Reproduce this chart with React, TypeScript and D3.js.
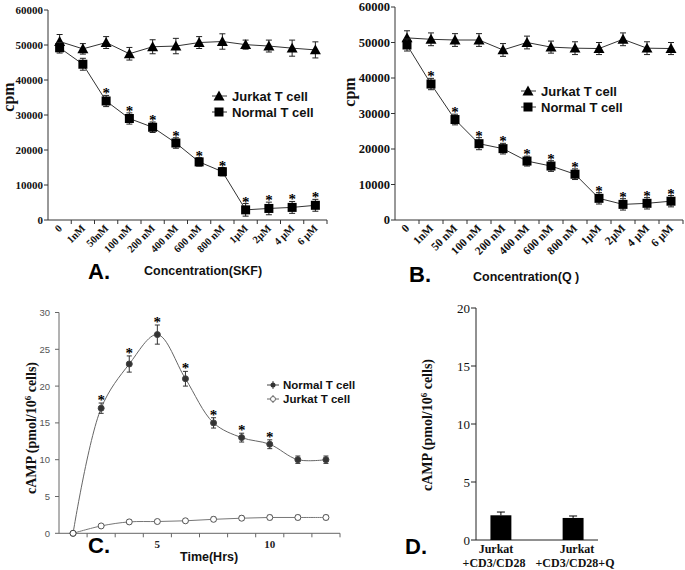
import React from "react";
import * as d3 from "d3";

// ---------- Data ----------
const concLabelsA = ["0", "1nM", "50nM", "100 nM", "200 nM", "400 nM", "600 nM", "800 nM", "1µM", "2µM", "4 µM", "6 µM"];
const concLabelsB = ["0", "1nM", "50 nM", "100 nM", "200 nM", "400 nM", "600 nM", "800 nM", "1µM", "2µM", "4 µM", "6 µM"];
const cpmTicks = [0, 10000, 20000, 30000, 40000, 50000, 60000];

const jurkatA = [51000, 48900, 50700, 47500, 49500, 49700, 50700, 51000, 50100, 49700, 49100, 48600];
const jurkatAErr = [2000, 1500, 1700, 1800, 2000, 2200, 1700, 2200, 1300, 1700, 2300, 2300];
const normalA = [49200, 44500, 34000, 29000, 26500, 22000, 16600, 13800, 2900, 3300, 3600, 4200];
const normalAErr = [1500, 1700, 1600, 1600, 1500, 1500, 1200, 1200, 1800, 1800, 1700, 1700];
const starsA = [false, false, true, true, true, true, true, true, true, true, true, true];

const jurkatB = [51300, 50900, 50700, 50700, 47900, 50000, 48700, 48400, 48300, 50900, 48400, 48300];
const jurkatBErr = [2000, 1800, 1800, 1800, 1800, 1800, 1700, 1800, 1700, 1800, 1800, 1700];
const normalB = [49300, 38300, 28300, 21500, 20100, 16600, 15200, 12900, 6100, 4400, 4700, 5300];
const normalBErr = [1700, 1600, 1500, 1700, 1500, 1400, 1500, 1500, 1600, 1600, 1600, 1600];
const starsB = [false, true, true, true, true, true, true, true, true, true, true, true];

const timeCats = [1.25, 2.5, 3.75, 5, 6.25, 7.5, 8.75, 10, 11.25, 12.5];
const timeLabels = ["", "", "", "5", "", "", "", "10", "", ""];
const normalC = [0, 17, 23, 27, 21, 15, 13, 12.1, 10, 10];
const normalCErr = [0, 0.7, 1.1, 1.3, 1.0, 0.7, 0.6, 0.6, 0.5, 0.5];
const starsC = [false, true, true, true, true, true, true, true, false, false];
const jurkatC = [0, 1.0, 1.55, 1.6, 1.7, 1.9, 2.05, 2.15, 2.15, 2.15];
const jurkatCErr = [0, 0.15, 0.25, 0.25, 0.25, 0.3, 0.3, 0.3, 0.3, 0.3];
const cTicks = [0, 5, 10, 15, 20, 25, 30];

const barCats = ["Jurkat\n+CD3/CD28", "Jurkat\n+CD3/CD28+Q"];
const barVals = [2.13, 1.9];
const barErr = [0.28, 0.17];
const dTicks = [0, 5, 10, 15, 20];

// ---------- Styles ----------
const SERIF = '"Liberation Serif", "Times New Roman", serif';
const SANS = '"Liberation Sans", Arial, sans-serif';

function Tri({ x, y, s = 5.5 }: { x: number; y: number; s?: number }) {
  return <path d={`M${x},${y - s} L${x + s},${y + s * 0.8} L${x - s},${y + s * 0.8} Z`} fill="#000" />;
}
function Sq({ x, y, s = 4.5 }: { x: number; y: number; s?: number }) {
  return <rect x={x - s} y={y - s} width={2 * s} height={2 * s} fill="#000" />;
}
function ErrBar({ x, y1, y2, cap = 3, stroke = "#222" }: { x: number; y1: number; y2: number; cap?: number; stroke?: string }) {
  return (
    <g stroke={stroke} strokeWidth={1}>
      <line x1={x} x2={x} y1={y1} y2={y2} />
      <line x1={x - cap} x2={x + cap} y1={y1} y2={y1} />
      <line x1={x - cap} x2={x + cap} y1={y2} y2={y2} />
    </g>
  );
}

type ConcProps = {
  x0: number; x1: number; yTop: number; yBot: number;
  labels: string[]; jurkat: number[]; jurkatErr: number[]; normal: number[]; normalErr: number[]; stars: boolean[];
  tickFont: number; xFont: number; legendX: number; legendY: number; cpmX: number; cpmY: number;
  letter: string; letterX: number; letterY: number; title: string; titleX: number; titleY: number;
};

function ConcPanel(p: ConcProps) {
  const x = d3.scaleBand<number>().domain(d3.range(p.labels.length)).range([p.x0, p.x1]);
  const y = d3.scaleLinear().domain([0, 60000]).range([p.yBot, p.yTop]);
  const cx = (i: number) => (x(i) as number) + x.bandwidth() / 2;
  const line = d3.line<number>().x((_, i) => cx(i)).y((v) => y(v));
  return (
    <g>
      <line x1={p.x0} x2={p.x0} y1={p.yTop} y2={p.yBot} stroke="#333" />
      <line x1={p.x0} x2={p.x1} y1={p.yBot} y2={p.yBot} stroke="#333" />
      {cpmTicks.map((t) => (
        <g key={t}>
          <line x1={p.x0 - 4} x2={p.x0} y1={y(t)} y2={y(t)} stroke="#333" />
          <text x={p.x0 - 5} y={y(t) + p.tickFont * 0.35} textAnchor="end" fontFamily={SERIF} fontWeight="bold" fontSize={p.tickFont} fill="#111">{t}</text>
        </g>
      ))}
      {p.labels.map((l, i) => (
        <g key={i}>
          <line x1={(x(i) as number) + x.bandwidth()} x2={(x(i) as number) + x.bandwidth()} y1={p.yBot} y2={p.yBot + 4} stroke="#333" />
          <text transform={`translate(${cx(i) + 3},${p.yBot + 9}) rotate(-45)`} textAnchor="end" fontFamily={SERIF} fontWeight="bold" fontSize={p.xFont} fill="#111">{l}</text>
        </g>
      ))}
      <path d={line(p.jurkat) || ""} fill="none" stroke="#333" strokeWidth={1} />
      <path d={line(p.normal) || ""} fill="none" stroke="#333" strokeWidth={1} />
      {p.jurkat.map((v, i) => (
        <g key={"j" + i}>
          <ErrBar x={cx(i)} y1={y(v + p.jurkatErr[i])} y2={y(v - p.jurkatErr[i])} />
          <Tri x={cx(i)} y={y(v)} />
        </g>
      ))}
      {p.normal.map((v, i) => (
        <g key={"n" + i}>
          <ErrBar x={cx(i)} y1={y(v + p.normalErr[i])} y2={y(v - p.normalErr[i])} />
          <Sq x={cx(i)} y={y(v)} />
          {p.stars[i] && (
            <text x={cx(i)} y={y(v + p.normalErr[i]) + 3} textAnchor="middle" fontFamily={SERIF} fontWeight="bold" fontSize={15} fill="#000">*</text>
          )}
        </g>
      ))}
      <g>
        <line x1={p.legendX - 7} x2={p.legendX + 8} y1={p.legendY} y2={p.legendY} stroke="#333" />
        <Tri x={p.legendX} y={p.legendY} />
        <text x={p.legendX + 13} y={p.legendY + 4.5} fontFamily={SANS} fontWeight="bold" fontSize={13} fill="#111">Jurkat T cell</text>
        <line x1={p.legendX - 7} x2={p.legendX + 8} y1={p.legendY + 16} y2={p.legendY + 16} stroke="#333" />
        <Sq x={p.legendX} y={p.legendY + 16} />
        <text x={p.legendX + 13} y={p.legendY + 20.5} fontFamily={SANS} fontWeight="bold" fontSize={13} fill="#111">Normal T cell</text>
      </g>
      <text transform={`translate(${p.cpmX},${p.cpmY}) rotate(-90)`} textAnchor="middle" fontFamily={SERIF} fontWeight="bold" fontSize={16} fill="#111">cpm</text>
      <text x={p.letterX} y={p.letterY} fontFamily={SANS} fontWeight="bold" fontSize={22} fill="#000">{p.letter}</text>
      <text x={p.titleX} y={p.titleY} fontFamily={SANS} fontWeight="bold" fontSize={12.5} fill="#111">{p.title}</text>
    </g>
  );
}

function PanelC() {
  const x0 = 59, x1 = 340, yTop = 312.5, yBot = 533.3;
  const x = d3.scaleBand<number>().domain(timeCats).range([x0, x1]);
  const y = d3.scaleLinear().domain([0, 30]).range([yBot, yTop]);
  const cx = (t: number) => (x(t) as number) + x.bandwidth() / 2;
  const line = d3.line<number>().x((_, i) => cx(timeCats[i])).y((v) => y(v)).curve(d3.curveCatmullRom.alpha(0.5));
  const lx = 273;
  return (
    <g>
      <line x1={x0} x2={x0} y1={yTop} y2={yBot} stroke="#666" />
      <line x1={x0} x2={x1} y1={yBot} y2={yBot} stroke="#666" />
      {cTicks.map((t) => (
        <g key={t}>
          <line x1={x0 - 4} x2={x0} y1={y(t)} y2={y(t)} stroke="#666" />
          <text x={x0 - 9} y={y(t) + 3.5} textAnchor="end" fontFamily={SANS} fontSize={9.5} fill="#555">{t}</text>
        </g>
      ))}
      {timeCats.map((t, i) => (
        <g key={t}>
          <line x1={(x(t) as number) + x.bandwidth()} x2={(x(t) as number) + x.bandwidth()} y1={yBot} y2={yBot + 4} stroke="#666" />
          {timeLabels[i] && (
            <text x={cx(t)} y={yBot + 15} textAnchor="middle" fontFamily={SERIF} fontWeight="bold" fontSize={11} fill="#222">{timeLabels[i]}</text>
          )}
        </g>
      ))}
      <path d={line(normalC) || ""} fill="none" stroke="#666" strokeWidth={1} />
      <path d={line(jurkatC) || ""} fill="none" stroke="#777" strokeWidth={1} />
      {jurkatC.map((v, i) => (
        <g key={"j" + i}>
          {jurkatCErr[i] > 0 && <ErrBar x={cx(timeCats[i])} y1={y(v + jurkatCErr[i])} y2={y(v - jurkatCErr[i])} cap={2.5} stroke="#555" />}
          <circle cx={cx(timeCats[i])} cy={y(v)} r={3} fill="#fff" stroke="#555" strokeWidth={1} />
        </g>
      ))}
      {normalC.map((v, i) => (
        <g key={"n" + i}>
          {normalCErr[i] > 0 && <ErrBar x={cx(timeCats[i])} y1={y(v + normalCErr[i])} y2={y(v - normalCErr[i])} cap={2.5} stroke="#333" />}
          <circle cx={cx(timeCats[i])} cy={y(v)} r={3} fill={i === 0 ? "#fff" : "#333"} stroke="#444" strokeWidth={1} />
          {starsC[i] && (
            <text x={cx(timeCats[i])} y={y(v + normalCErr[i]) + 2} textAnchor="middle" fontFamily={SERIF} fontWeight="bold" fontSize={15} fill="#000">*</text>
          )}
        </g>
      ))}
      <g>
        <line x1={lx - 6} x2={lx + 6} y1={385} y2={385} stroke="#444" />
        <line x1={lx} x2={lx} y1={381} y2={389} stroke="#444" />
        <circle cx={lx} cy={385} r={2.5} fill="#333" />
        <text x={lx + 10} y={389} fontFamily={SANS} fontWeight="bold" fontSize={11.5} fill="#111">Normal T cell</text>
        <line x1={lx - 6} x2={lx + 6} y1={399} y2={399} stroke="#666" />
        <line x1={lx} x2={lx} y1={395} y2={403} stroke="#666" />
        <circle cx={lx} cy={399} r={2.5} fill="#fff" stroke="#666" />
        <text x={lx + 10} y={403} fontFamily={SANS} fontWeight="bold" fontSize={11.5} fill="#111">Jurkat T cell</text>
      </g>
      <text transform="translate(36,428) rotate(-90)" textAnchor="middle" fontFamily={SERIF} fontWeight="bold" fontSize={14} fill="#111">
        cAMP (pmol/10<tspan dy={-5} fontSize={9}>6</tspan><tspan dy={5}> cells)</tspan>
      </text>
      <text x={88} y={553} fontFamily={SANS} fontWeight="bold" fontSize={22} fill="#000">C.</text>
      <text x={180} y={561} fontFamily={SANS} fontWeight="bold" fontSize={12.5} fill="#111">Time(Hrs)</text>
    </g>
  );
}

function PanelD() {
  const x0 = 476, x1 = 598, yTop = 308, yBot = 540;
  const x = d3.scaleBand<string>().domain(barCats).range([x0, x1]).paddingInner(0.71).paddingOuter(0.2);
  const y = d3.scaleLinear().domain([0, 20]).range([yBot, yTop]);
  const labelCx = [496, 577];
  return (
    <g>
      <line x1={x0} x2={x0} y1={yTop} y2={yBot} stroke="#222" />
      <line x1={x0} x2={x1} y1={yBot} y2={yBot} stroke="#222" />
      {dTicks.map((t) => (
        <g key={t}>
          <line x1={x0 - 5} x2={x0} y1={y(t)} y2={y(t)} stroke="#222" />
          <text x={x0 - 6} y={y(t) + 4.5} textAnchor="end" fontFamily={SERIF} fontSize={13} fill="#111">{t}</text>
        </g>
      ))}
      {barCats.map((c, i) => {
        const bx = x(c) as number;
        const cx = bx + x.bandwidth() / 2;
        const [l1, l2] = c.split("\n");
        return (
          <g key={c}>
            <rect x={bx} y={y(barVals[i])} width={x.bandwidth()} height={yBot - y(barVals[i])} fill="#000" />
            <line x1={cx} x2={cx} y1={y(barVals[i])} y2={y(barVals[i] + barErr[i])} stroke="#000" />
            <line x1={cx - 4} x2={cx + 4} y1={y(barVals[i] + barErr[i])} y2={y(barVals[i] + barErr[i])} stroke="#000" />
            <text x={labelCx[i]} y={553} textAnchor="middle" fontFamily={SERIF} fontWeight="bold" fontSize={12} fill="#111">{l1}</text>
            <text x={labelCx[i] - 2} y={567} textAnchor="middle" fontFamily={SERIF} fontWeight="bold" fontSize={12} fill="#111">{l2}</text>
          </g>
        );
      })}
      <text transform="translate(432,425) rotate(-90)" textAnchor="middle" fontFamily={SERIF} fontWeight="bold" fontSize={14} fill="#111">
        cAMP (pmol/10<tspan dy={-5} fontSize={9}>6</tspan><tspan dy={5}> cells)</tspan>
      </text>
      <text x={405} y={554} fontFamily={SANS} fontWeight="bold" fontSize={22} fill="#000">D.</text>
    </g>
  );
}

export default function App() {
  return (
    <svg width={685} height={570} style={{ position: "absolute", left: 0, top: 0, background: "#fff" }}>
      <rect width={685} height={570} fill="#fff" />
      <ConcPanel x0={48} x1={327} yTop={10} yBot={220} labels={concLabelsA}
        jurkat={jurkatA} jurkatErr={jurkatAErr} normal={normalA} normalErr={normalAErr} stars={starsA}
        tickFont={11} xFont={10.5} legendX={219} legendY={96} cpmX={14} cpmY={97}
        letter="A." letterX={88} letterY={279} title="Concentration(SKF)" titleX={144} titleY={275} />
      <ConcPanel x0={395} x1={683} yTop={7} yBot={220} labels={concLabelsB}
        jurkat={jurkatB} jurkatErr={jurkatBErr} normal={normalB} normalErr={normalBErr} stars={starsB}
        tickFont={12.5} xFont={11.5} legendX={528} legendY={91} cpmX={355} cpmY={92}
        letter="B." letterX={409} letterY={282} title="Concentration(Q )" titleX={473} titleY={281} />
      <PanelC />
      <PanelD />
    </svg>
  );
}
